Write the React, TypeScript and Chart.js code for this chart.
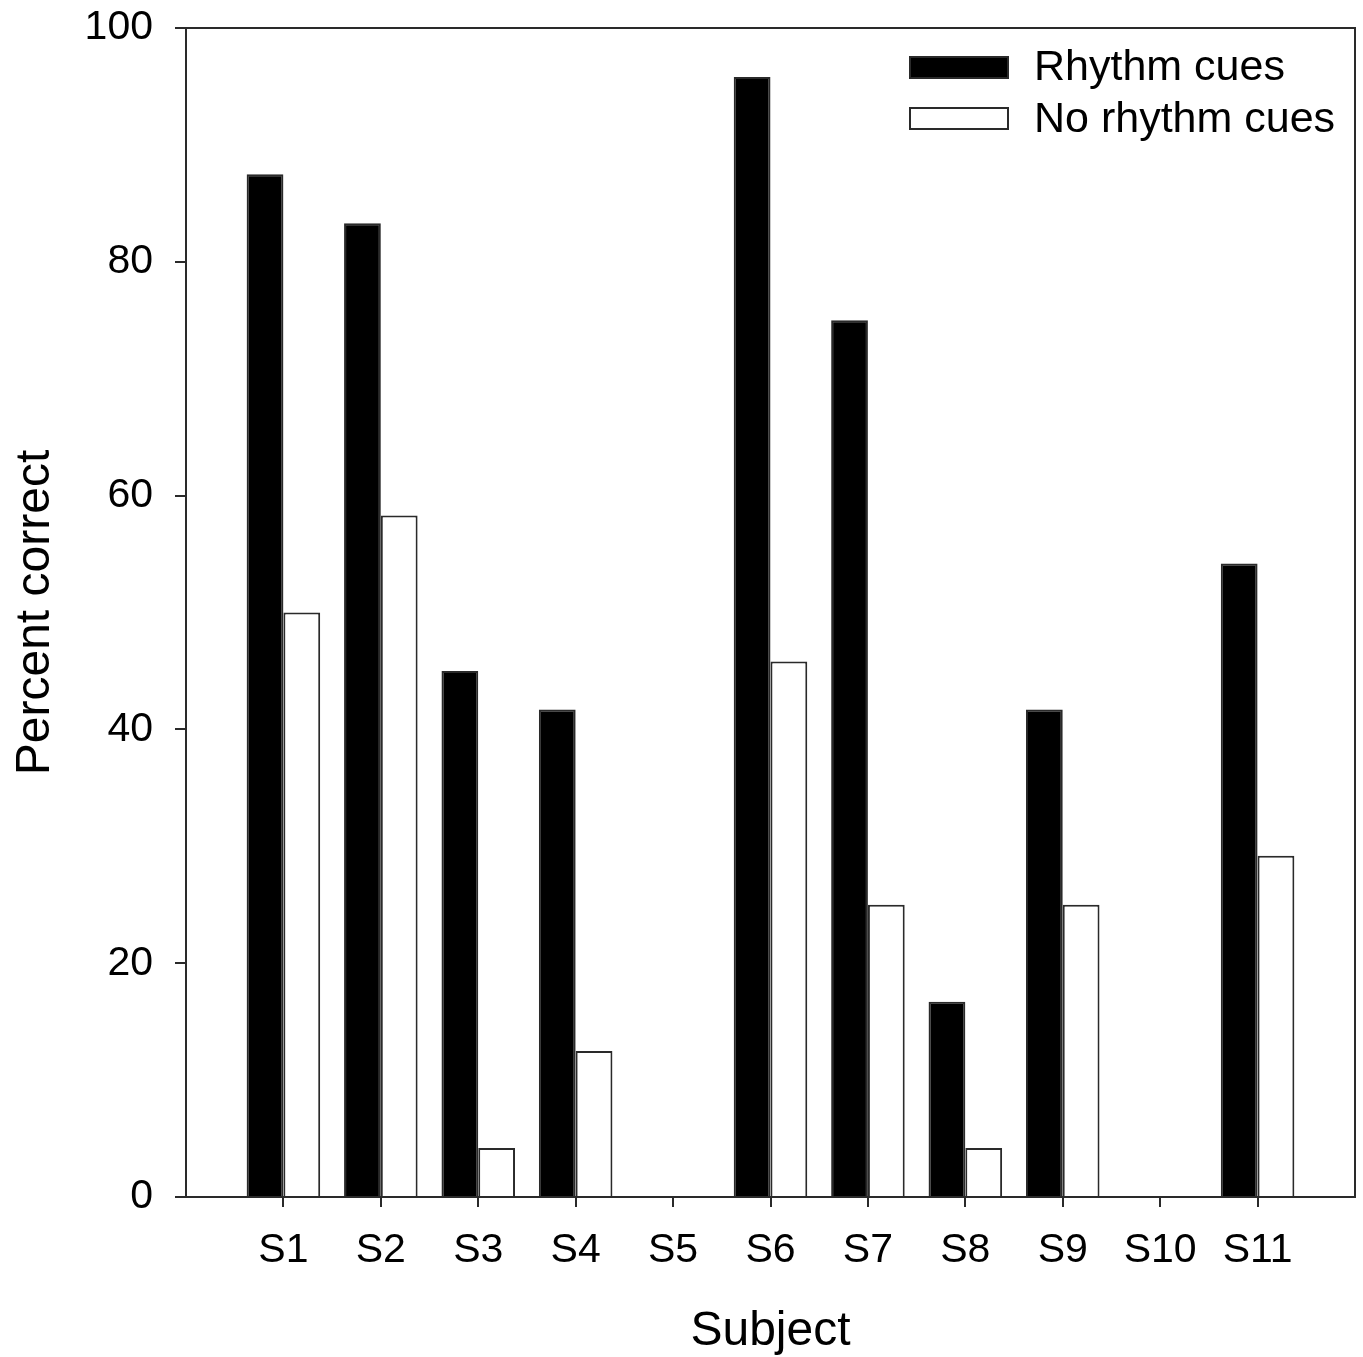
import React, { useEffect, useRef } from 'react';
import { Chart, registerables } from 'chart.js';

Chart.register(...registerables);

const SUBJECTS = ['S1', 'S2', 'S3', 'S4', 'S5', 'S6', 'S7', 'S8', 'S9', 'S10', 'S11'];
const RHYTHM_CUES = [87.5, 83.3, 45.0, 41.7, 0, 95.8, 75.0, 16.7, 41.7, 0, 54.2];
const NO_RHYTHM_CUES = [50.0, 58.3, 4.2, 12.5, 0, 45.8, 25.0, 4.2, 25.0, 0, 29.2];
const SERIES_LABELS = ['Rhythm cues', 'No rhythm cues'];
const Y_TICKS = [0, 20, 40, 60, 80, 100];
const X_TITLE = 'Subject';
const Y_TITLE = 'Percent correct';

const FONT = "'Liberation Sans', Arial, Helvetica, sans-serif";
const LINE = '#2a2a2a';

const frameAndLegend = {
  id: 'frameAndLegend',
  afterDraw(chart: any) {
    const { ctx, chartArea } = chart;
    const { top, right, left, bottom } = chartArea;
    ctx.save();
    ctx.strokeStyle = LINE;
    ctx.lineWidth = 2;
    ctx.beginPath();
    ctx.moveTo(left, top);
    ctx.lineTo(right, top);
    ctx.lineTo(right, bottom);
    ctx.stroke();

    // legend inside plot, top-right
    const boxX = right - 445;
    const boxW = 98;
    const boxH = 21;
    const textX = right - 321;
    chart.data.datasets.forEach((ds: any, i: number) => {
      const boxY = top + 29 + i * 51;
      ctx.fillStyle = ds.backgroundColor;
      ctx.fillRect(boxX, boxY, boxW, boxH);
      ctx.lineWidth = 2;
      ctx.strokeStyle = LINE;
      ctx.strokeRect(boxX, boxY, boxW, boxH);
      ctx.fillStyle = '#000';
      ctx.font = `43px ${FONT}`;
      ctx.textAlign = 'left';
      ctx.textBaseline = 'alphabetic';
      ctx.fillText(ds.label, textX, top + 52 + i * 52);
    });
    ctx.restore();
  },
};

function App() {
  const ref = useRef<HTMLCanvasElement | null>(null);

  useEffect(() => {
    if (!ref.current) return;
    const chart = new Chart(ref.current, {
      type: 'bar',
      data: {
        datasets: [
          {
            label: SERIES_LABELS[0],
            data: RHYTHM_CUES.map((v, i) => ({ x: i + 1, y: v })),
            backgroundColor: '#000000',
            borderColor: LINE,
            borderWidth: 2,
          },
          {
            label: SERIES_LABELS[1],
            data: NO_RHYTHM_CUES.map((v, i) => ({ x: i + 1, y: v })),
            backgroundColor: '#ffffff',
            borderColor: LINE,
            borderWidth: 2,
          },
        ],
      },
      options: {
        responsive: false,
        animation: false,
        layout: { padding: { top: 28, right: 8, left: 0, bottom: 0 } },
        datasets: {
          bar: { categoryPercentage: 0.755, barPercentage: 1.0 },
        },
        plugins: {
          legend: { display: false },
          tooltip: { enabled: false },
        },
        scales: {
          x: {
            type: 'linear',
            offset: false,
            min: 0,
            max: SUBJECTS.length + 1,
            afterBuildTicks: (scale: any) => {
              scale.ticks = SUBJECTS.map((_, i) => ({ value: i + 1 }));
            },
            afterFit: (scale: any) => {
              scale.height = 160;
              scale.paddingLeft = 0;
              scale.paddingRight = 0;
            },
            ticks: {
              autoSkip: false,
              maxRotation: 0,
              minRotation: 0,
              padding: 19,
              color: '#000',
              font: { family: FONT, size: 41 },
              callback: (v: any) => SUBJECTS[Math.round(v) - 1] ?? '',
            },
            grid: {
              display: true,
              offset: false,
              drawOnChartArea: false,
              drawTicks: true,
              tickLength: 10,
              color: LINE,
              lineWidth: 2,
            },
            border: { display: true, color: LINE, width: 2 },
            title: {
              display: true,
              text: X_TITLE,
              color: '#000',
              font: { family: FONT, size: 48 },
              padding: { top: 0, bottom: -4 },
            },
          },
          y: {
            min: 0,
            max: 100,
            afterBuildTicks: (scale: any) => {
              scale.ticks = Y_TICKS.map((v) => ({ value: v }));
            },
            afterFit: (scale: any) => {
              scale.width = 186;
              scale.paddingTop = 0;
              scale.paddingBottom = 0;
            },
            ticks: {
              padding: 22,
              color: '#000',
              font: { family: FONT, size: 41 },
            },
            grid: {
              display: true,
              drawOnChartArea: false,
              drawTicks: true,
              tickLength: 11,
              color: LINE,
              lineWidth: 2,
            },
            border: { display: true, color: LINE, width: 2 },
            title: {
              display: true,
              text: Y_TITLE,
              color: '#000',
              font: { family: FONT, size: 48 },
              padding: { top: 7, bottom: 0 },
            },
          },
        },
      },
      plugins: [frameAndLegend],
    } as any);
    return () => chart.destroy();
  }, []);

  return (
    <div style={{ position: 'absolute', left: 0, top: 0, width: 1363, height: 1357, background: '#fff' }}>
      <canvas ref={ref} width={1363} height={1357} style={{ display: 'block', width: 1363, height: 1357 }} />
    </div>
  );
}

export default App;
